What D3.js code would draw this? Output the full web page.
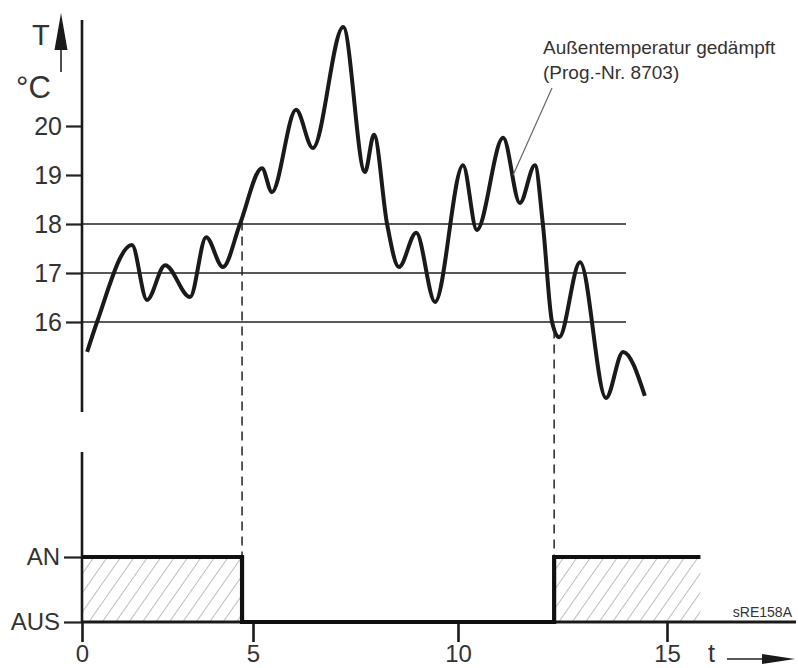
<!DOCTYPE html>
<html>
<head>
<meta charset="utf-8">
<script src="https://cdn.jsdelivr.net/npm/d3@7"></script>
<style>
  body { margin: 0; background: #fff; }
  svg { display: block; font-family: "Liberation Sans", Arial, sans-serif; }
  .tick text { fill: #333; }
</style>
</head>
<body>
<script>
var width = 798,
    height = 668;

// Zeitachse (nicht linear gezeichnet im Original)
var ticksX = [0, 5, 10, 15];
var ticksT = [16, 17, 18, 19, 20];
var gridT = [16, 17, 18];
var states = ["AUS", "AN"];

// Außentemperatur gedämpft
var time = [0.15, 0.44, 1.46, 1.90, 2.43, 3.16, 3.63, 4.12, 4.62, 5.22, 5.46, 6.05, 6.46, 7.20,
            7.73, 7.95, 8.27, 8.56, 8.98, 9.44, 10.12, 10.45, 11.08, 11.48, 11.84, 12.03,
            12.25, 12.42, 12.92, 13.54, 13.95, 14.47];
var temp = [15.39, 16.0, 17.57, 16.45, 17.16, 16.51, 17.73, 17.12, 18.0, 19.14, 18.65, 20.33, 19.55, 22.02,
            19.06, 19.82, 18.0, 17.12, 17.82, 16.41, 19.20, 17.88, 19.76, 18.43, 19.20, 18.0,
            16.0, 15.69, 17.22, 14.45, 15.39, 14.49];

// Schaltzustand
var stepTime = [0, 4.68, 12.3, 15.8];
var stepState = ["AN", "AUS", "AN", "AN"];
var onPeriods = [[0, 4.68], [12.3, 15.8]];
var switchTimes = [4.68, 12.3];

//Scales
var x = d3.scaleLinear().domain(ticksX).range([82, 253, 458, 667]);
var y = d3.scaleLinear().domain([16, 20]).range([322, 126]);
var s = d3.scalePoint().domain(states).range([622, 557]);
var tempAt = d3.scaleLinear().domain(time).range(temp);

var svg = d3.select("body").append("svg")
    .attr("width", width)
    .attr("height", height);

// Hatch pattern
var pat = svg.append("defs").append("pattern")
    .attr("id", "hatch")
    .attr("patternUnits", "userSpaceOnUse")
    .attr("width", 11)
    .attr("height", 11)
    .attr("patternTransform", "rotate(35)");
pat.append("line")
    .attr("x1", 0).attr("y1", -2).attr("x2", 0).attr("y2", 13)
    .attr("stroke", "#888").attr("stroke-width", 1.1);

//Grid lines
svg.selectAll("line.grid")
    .data(gridT)
    .enter().append("line")
    .attr("class", "grid")
    .attr("x1", x(0)).attr("x2", 626)
    .attr("y1", y).attr("y2", y)
    .attr("stroke", "#222").attr("stroke-width", 1.4);

//Upper axis
var yAxis = svg.append("g")
    .attr("transform", "translate(" + x(0) + ",0)")
    .call(d3.axisLeft(y).tickValues(ticksT).tickFormat(d3.format("d")).tickSize(16).tickPadding(4));
yAxis.select(".domain").remove();
yAxis.selectAll("line").attr("stroke", "#222").attr("stroke-width", 2.2);
yAxis.selectAll("text").attr("font-size", 25).attr("font-family", "Liberation Sans, Arial");

svg.append("line")
    .attr("x1", x(0)).attr("x2", x(0))
    .attr("y1", 20).attr("y2", 412)
    .attr("stroke", "#1a1a1a").attr("stroke-width", 2.6);

// T / °C label with arrow
svg.append("text").attr("x", 32).attr("y", 45)
    .attr("font-size", 29).attr("fill", "#333").text("T");
svg.append("text").attr("x", 16).attr("y", 98)
    .attr("font-size", 31).attr("fill", "#333").text("°C");
svg.append("line")
    .attr("x1", 61).attr("x2", 61).attr("y1", 72).attr("y2", 45)
    .attr("stroke", "#222").attr("stroke-width", 1.6);
svg.append("path")
    .attr("d", "M61,13 L67.5,50 L54.5,50 Z")
    .attr("fill", "#1a1a1a");

//Temperature curve
var line = d3.line()
    .x(function (d) { return x(d[0]); })
    .y(function (d) { return y(d[1]); })
    .curve(d3.curveMonotoneX);

svg.append("path")
    .datum(d3.zip(time, temp))
    .attr("d", line)
    .attr("fill", "none")
    .attr("stroke", "#1a1a1a")
    .attr("stroke-width", 4)
    .attr("stroke-linejoin", "round");

// Annotation
var note = svg.append("text")
    .attr("font-size", 19)
    .attr("fill", "#333");
note.append("tspan").attr("x", 543).attr("y", 54).text("Außentemperatur gedämpft");
note.append("tspan").attr("x", 543).attr("y", 79).text("(Prog.-Nr. 8703)");

svg.append("line")
    .attr("x1", 552).attr("y1", 88)
    .attr("x2", 513).attr("y2", y(tempAt(x.invert(513))) - 1)
    .attr("stroke", "#666").attr("stroke-width", 1.2);

//Dashed switch lines
svg.selectAll("line.switch")
    .data(switchTimes)
    .enter().append("line")
    .attr("class", "switch")
    .attr("x1", function (d) { return x(d); })
    .attr("x2", function (d) { return x(d); })
    .attr("y1", function (d) { return y(tempAt(d)) + 3; })
    .attr("y2", s("AN"))
    .attr("stroke", "#222")
    .attr("stroke-width", 1.5)
    .attr("stroke-dasharray", "9,6");

//Hatched on periods
svg.selectAll("rect.on")
    .data(onPeriods)
    .enter().append("rect")
    .attr("class", "on")
    .attr("x", function (d) { return x(d[0]); })
    .attr("width", function (d) { return x(d[1]) - x(d[0]); })
    .attr("y", s("AN"))
    .attr("height", s("AUS") - s("AN"))
    .attr("fill", "url(#hatch)");

//Lower axis
var sAxis = svg.append("g")
    .attr("transform", "translate(" + x(0) + ",0)")
    .call(d3.axisLeft(s).tickSize(18).tickPadding(4));
sAxis.select(".domain").remove();
sAxis.selectAll("line").attr("stroke", "#222").attr("stroke-width", 2.2);
sAxis.selectAll("text").attr("font-size", 24).attr("font-family", "Liberation Sans, Arial");

svg.append("line")
    .attr("x1", x(0)).attr("x2", x(0))
    .attr("y1", 452).attr("y2", s("AUS"))
    .attr("stroke", "#1a1a1a").attr("stroke-width", 2.6);

var xAxis = svg.append("g")
    .attr("transform", "translate(0," + s("AUS") + ")")
    .call(d3.axisBottom(x).tickValues(ticksX).tickSize(20).tickPadding(3));
xAxis.select(".domain").remove();
xAxis.selectAll("line").attr("stroke", "#1a1a1a").attr("stroke-width", 2.6);
xAxis.selectAll("text").attr("font-size", 24).attr("font-family", "Liberation Sans, Arial");

svg.append("line")
    .attr("x1", x(0)).attr("x2", 796)
    .attr("y1", s("AUS")).attr("y2", s("AUS"))
    .attr("stroke", "#1a1a1a").attr("stroke-width", 3);

//Switch state step line
var step = d3.line()
    .x(function (d) { return x(d[0]); })
    .y(function (d) { return s(d[1]); })
    .curve(d3.curveStepAfter);

svg.append("path")
    .datum(d3.zip(stepTime, stepState))
    .attr("d", step)
    .attr("fill", "none")
    .attr("stroke", "#111")
    .attr("stroke-width", 4.2);

// t arrow and figure id
svg.append("text").attr("x", 708).attr("y", 662)
    .attr("font-size", 25).attr("fill", "#333").text("t");
svg.append("line")
    .attr("x1", 727).attr("x2", 770).attr("y1", 659).attr("y2", 659)
    .attr("stroke", "#222").attr("stroke-width", 1.6);
svg.append("path")
    .attr("d", "M795,659 L762,654 L762,664 Z")
    .attr("fill", "#1a1a1a");

svg.append("text").attr("x", 792).attr("y", 617)
    .attr("text-anchor", "end")
    .attr("font-size", 14)
    .attr("fill", "#333")
    .text("sRE158A");
</script>
</body>
</html>
